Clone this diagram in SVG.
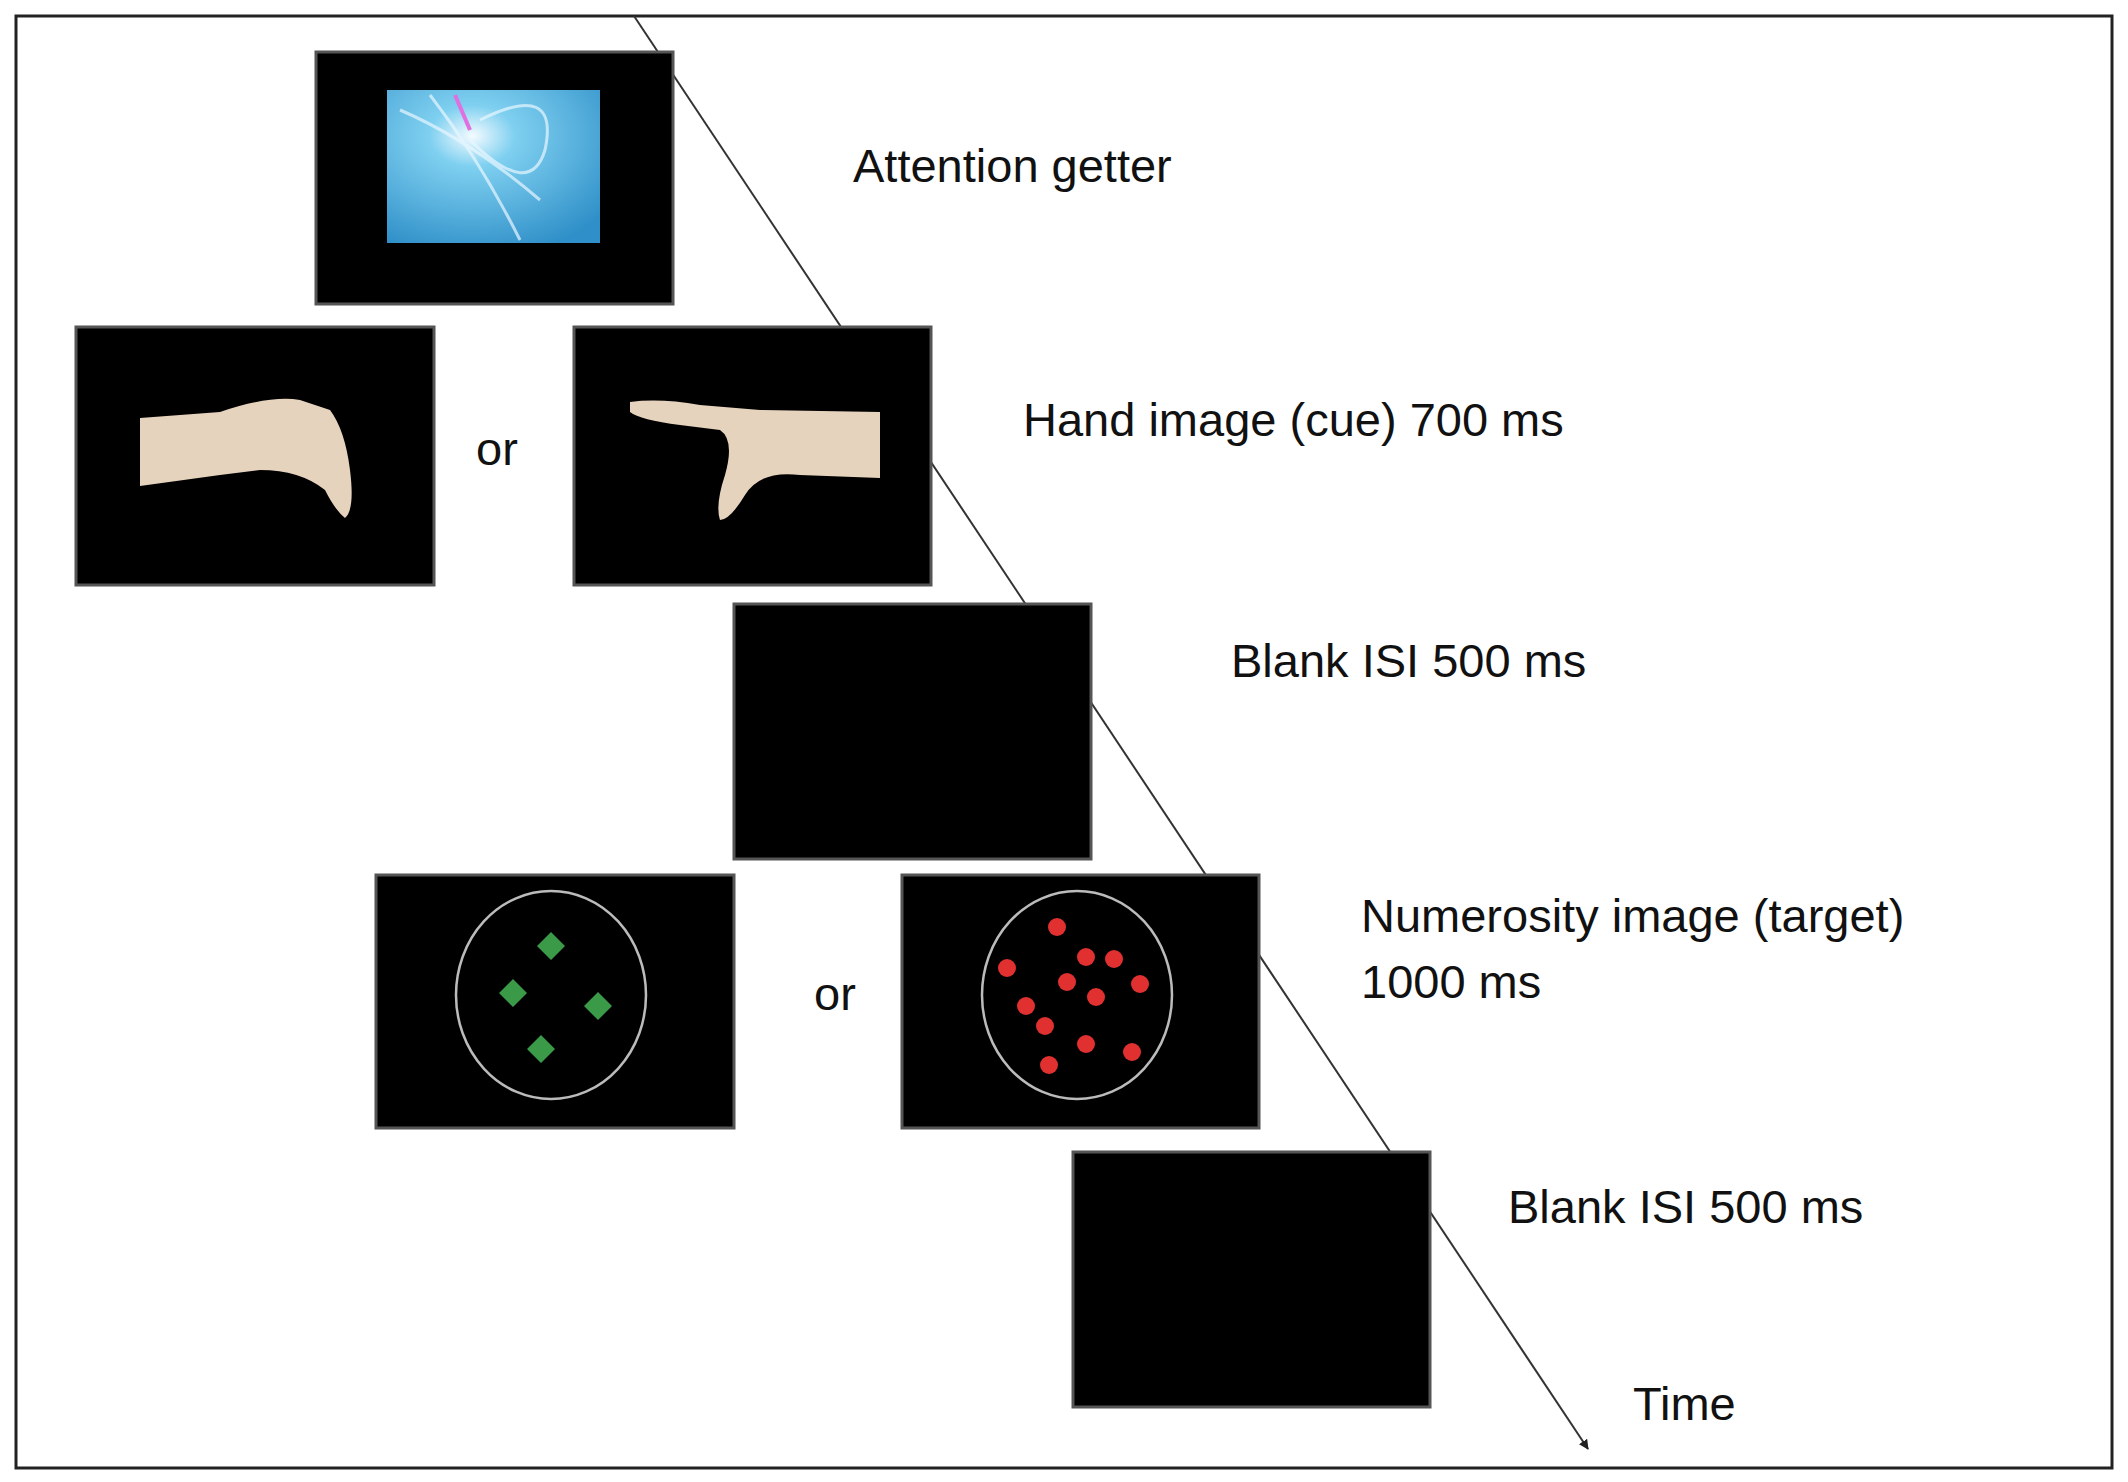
<svg xmlns="http://www.w3.org/2000/svg" width="2128" height="1482" viewBox="0 0 2128 1482">
<style>
.scr{fill:#000;stroke:#555;stroke-width:3}
.lbl{font-family:"Liberation Sans",Arial,sans-serif;font-size:47px;fill:#111}
.skin{fill:#e6d3bd}
.ring{fill:none;stroke:#bbb;stroke-width:2.5}
.dot{fill:#e03030}
.dia{fill:#3a9a48}
</style>
<defs>
<marker id="ah" viewBox="0 0 10 10" refX="9" refY="5" markerWidth="10" markerHeight="10" orient="auto" markerUnits="userSpaceOnUse"><path d="M0,0 L10,5 L0,10 z" fill="#222"/></marker>
<radialGradient id="burst" cx="0.4" cy="0.3" r="0.8"><stop offset="0" stop-color="#f4fbff"/><stop offset="0.25" stop-color="#7fd0f0"/><stop offset="1" stop-color="#2f8fc8"/></radialGradient>
</defs>
<rect x="16" y="16" width="2096" height="1452" fill="#fff" stroke="#222" stroke-width="3"/>
<g id="connectors"><line x1="634" y1="16" x2="1588" y2="1449" stroke="#333" stroke-width="2" marker-end="url(#ah)"/></g>
<g id="attention"><rect class="scr" x="316" y="52" width="357" height="252"/><rect x="387" y="90" width="213" height="153" fill="url(#burst)"/>
<path d="M400,110 Q470,140 540,200 M430,95 Q480,160 520,240 M480,120 Q560,80 545,150 Q530,200 470,140" fill="none" stroke="#e8f6ff" stroke-width="3" opacity="0.7"/>
<path d="M455,95 L470,130" stroke="#e070e0" stroke-width="4"/>
<text class="lbl" x="853" y="182">Attention getter</text></g>
<g id="hand"><rect class="scr" x="76" y="327" width="358" height="258"/>
<path class="skin" d="M140,418 L220,412 Q270,395 300,400 L330,410 Q345,430 350,470 Q355,510 345,518 Q335,510 325,490 Q300,470 260,470 L220,475 L140,486 z"/>
<rect class="scr" x="574" y="327" width="357" height="258"/>
<path class="skin" d="M630,402 Q660,398 700,405 L760,410 L880,412 L880,478 L800,475 Q760,470 745,495 Q730,520 720,520 Q715,505 725,475 Q735,440 720,430 L680,425 Q640,420 630,412 z"/>
<text class="lbl" x="476" y="465">or</text>
<text class="lbl" x="1023" y="436">Hand image (cue) 700 ms</text></g>
<g id="blank1"><rect class="scr" x="734" y="604" width="357" height="255"/><text class="lbl" x="1231" y="677">Blank ISI 500 ms</text></g>
<g id="numerosity"><rect class="scr" x="376" y="875" width="358" height="253"/><ellipse class="ring" cx="551" cy="995" rx="95" ry="104"/>
<path class="dia" d="M551,932 L565,946 L551,960 L537,946 z M513,979 L527,993 L513,1007 L499,993 z M598,992 L612,1006 L598,1020 L584,1006 z M541,1035 L555,1049 L541,1063 L527,1049 z"/>
<rect class="scr" x="902" y="875" width="357" height="253"/><ellipse class="ring" cx="1077" cy="995" rx="95" ry="104"/>
<g class="dot"><circle cx="1057" cy="927" r="9"/><circle cx="1007" cy="968" r="9"/><circle cx="1086" cy="957" r="9"/><circle cx="1114" cy="959" r="9"/><circle cx="1140" cy="984" r="9"/><circle cx="1067" cy="982" r="9"/><circle cx="1096" cy="997" r="9"/><circle cx="1026" cy="1006" r="9"/><circle cx="1045" cy="1026" r="9"/><circle cx="1086" cy="1044" r="9"/><circle cx="1132" cy="1052" r="9"/><circle cx="1049" cy="1065" r="9"/></g>
<text class="lbl" x="814" y="1010">or</text>
<text class="lbl" x="1361" y="932">Numerosity image (target)</text><text class="lbl" x="1361" y="998">1000 ms</text></g>
<g id="blank2"><rect class="scr" x="1073" y="1152" width="357" height="255"/><text class="lbl" x="1508" y="1223">Blank ISI 500 ms</text></g>
<g id="time"><text class="lbl" x="1633" y="1420">Time</text></g>
</svg>
